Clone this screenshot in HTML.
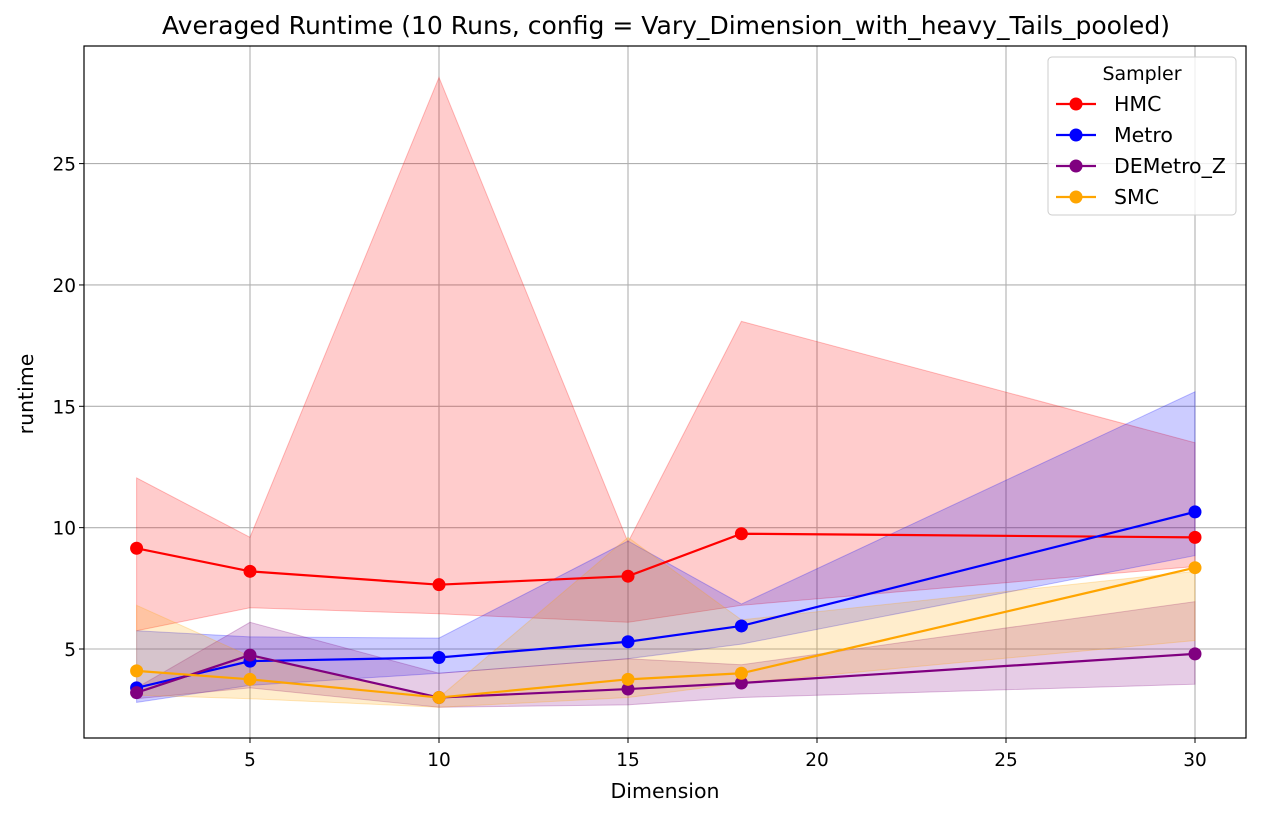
<!DOCTYPE html>
<html><head><meta charset="utf-8"><style>
body{margin:0;background:#fff;font-family:"DejaVu Sans","Liberation Sans",sans-serif}
</style></head><body>
<svg id="chart" width="1261" height="817" xmlns="http://www.w3.org/2000/svg" font-family="DejaVu Sans, Liberation Sans, sans-serif"></svg>
<script>
const dims=[2,5,10,15,18,30];
const xTicks=[5,10,15,20,25,30];
const yTicks=[5,10,15,20,25];
const seriesNames=["HMC","Metro","DEMetro_Z","SMC"];
const seriesColors=["red","blue","purple","orange"];
const hmcMean=[9.15,8.2,7.65,8.0,9.75,9.6];
const hmcUpper=[12.05,9.6,28.55,9.4,18.5,13.5];
const hmcLower=[5.75,6.7,6.45,6.1,6.8,8.4];
const metroMean=[3.4,4.5,4.65,5.3,5.95,10.65];
const metroUpper=[5.75,5.5,5.45,9.45,6.85,15.6];
const metroLower=[2.8,3.5,4.0,4.6,5.2,8.85];
const demMean=[3.2,4.75,3.0,3.35,3.6,4.8];
const demUpper=[3.4,6.1,4.0,4.6,4.35,6.95];
const demLower=[2.95,3.4,2.6,2.7,3.0,3.55];
const smcMean=[4.1,3.75,3.0,3.75,4.0,8.35];
const smcUpper=[6.8,4.7,3.0,9.6,6.2,8.2];
const smcLower=[3.1,2.95,2.6,3.0,3.6,5.35];
const means=[hmcMean,metroMean,demMean,smcMean];
const uppers=[hmcUpper,metroUpper,demUpper,smcUpper];
const lowers=[hmcLower,metroLower,demLower,smcLower];

const L=84,R=1246,T=46,B=738;
const X=v=>250+(v-5)*37.8;
const Y=v=>649-(v-5)*24.27;
const svg=document.getElementById('chart');
const NS="http://www.w3.org/2000/svg";
function mk(tag,attrs,parent){const e=document.createElementNS(NS,tag);for(const k in attrs)e.setAttribute(k,attrs[k]);(parent||svg).appendChild(e);return e;}

xTicks.forEach(t=>{const l=mk('line',{x1:X(t),x2:X(t),y1:T,y2:B,stroke:'#b0b0b0','stroke-width':1.1});

mk('line',{x1:X(t),x2:X(t),y1:B,y2:B+5,stroke:'#000'});
const tx=mk('text',{x:X(t),y:B+28,'text-anchor':'middle','font-size':18.5});tx.textContent=t;
});
yTicks.forEach(t=>{const l=mk('line',{x1:L,x2:R,y1:Y(t),y2:Y(t),stroke:'#b0b0b0','stroke-width':1.1});

mk('line',{x1:L-5,x2:L,y1:Y(t),y2:Y(t),stroke:'#000'});
const tx=mk('text',{x:L-8,y:Y(t)+7,'text-anchor':'end','font-size':18.5});tx.textContent=t;
});

seriesNames.forEach((n,i)=>{
 let pts=dims.map((d,j)=>X(d)+','+Y(uppers[i][j]));
 pts=pts.concat(dims.slice().reverse().map((d,j)=>X(d)+','+Y(lowers[i][dims.length-1-j])));
 const p=mk('polygon',{points:pts.join(' '),fill:seriesColors[i],'fill-opacity':0.2,stroke:seriesColors[i],'stroke-opacity':0.25});
 
});
seriesNames.forEach((n,i)=>{
 const pl=mk('polyline',{points:dims.map((d,j)=>X(d)+','+Y(means[i][j])).join(' '),fill:'none',stroke:seriesColors[i],'stroke-width':2.2});
 
 dims.forEach((d,j)=>{const c=mk('circle',{cx:X(d),cy:Y(means[i][j]),r:6.5,fill:seriesColors[i]});
 });
});
const fr=mk('rect',{x:L,y:T,width:R-L,height:B-T,fill:'none',stroke:'#000','stroke-width':1.2});

const ti=mk('text',{x:666,y:34,'text-anchor':'middle','font-size':25,'textLength':1008,'lengthAdjust':'spacingAndGlyphs'});ti.textContent='Averaged Runtime (10 Runs, config = Vary_Dimension_with_heavy_Tails_pooled)';

const xl=mk('text',{x:665,y:798,'text-anchor':'middle','font-size':20.5});xl.textContent='Dimension';

const yl=mk('text',{x:33,y:394,'text-anchor':'middle','font-size':20.5,transform:'rotate(-90 33 394)'});yl.textContent='runtime';

const lg=mk('g',{});

mk('rect',{x:1048,y:57,width:188,height:158,rx:4,fill:'#fff','fill-opacity':0.8,stroke:'#ccc'},lg);
const lt=mk('text',{x:1142,y:80,'text-anchor':'middle','font-size':19},lg);lt.textContent='Sampler';
seriesNames.forEach((n,i)=>{const y=104+i*31;
 const e=mk('g',{},lg);
 mk('line',{x1:1056,x2:1096,y1:y,y2:y,stroke:seriesColors[i],'stroke-width':2.2},e);
 mk('circle',{cx:1076,cy:y,r:6.5,fill:seriesColors[i]},e);
 const t=mk('text',{x:1114,y:y+7,'font-size':20.5},e);t.textContent=n;});
</script>
</body></html>
